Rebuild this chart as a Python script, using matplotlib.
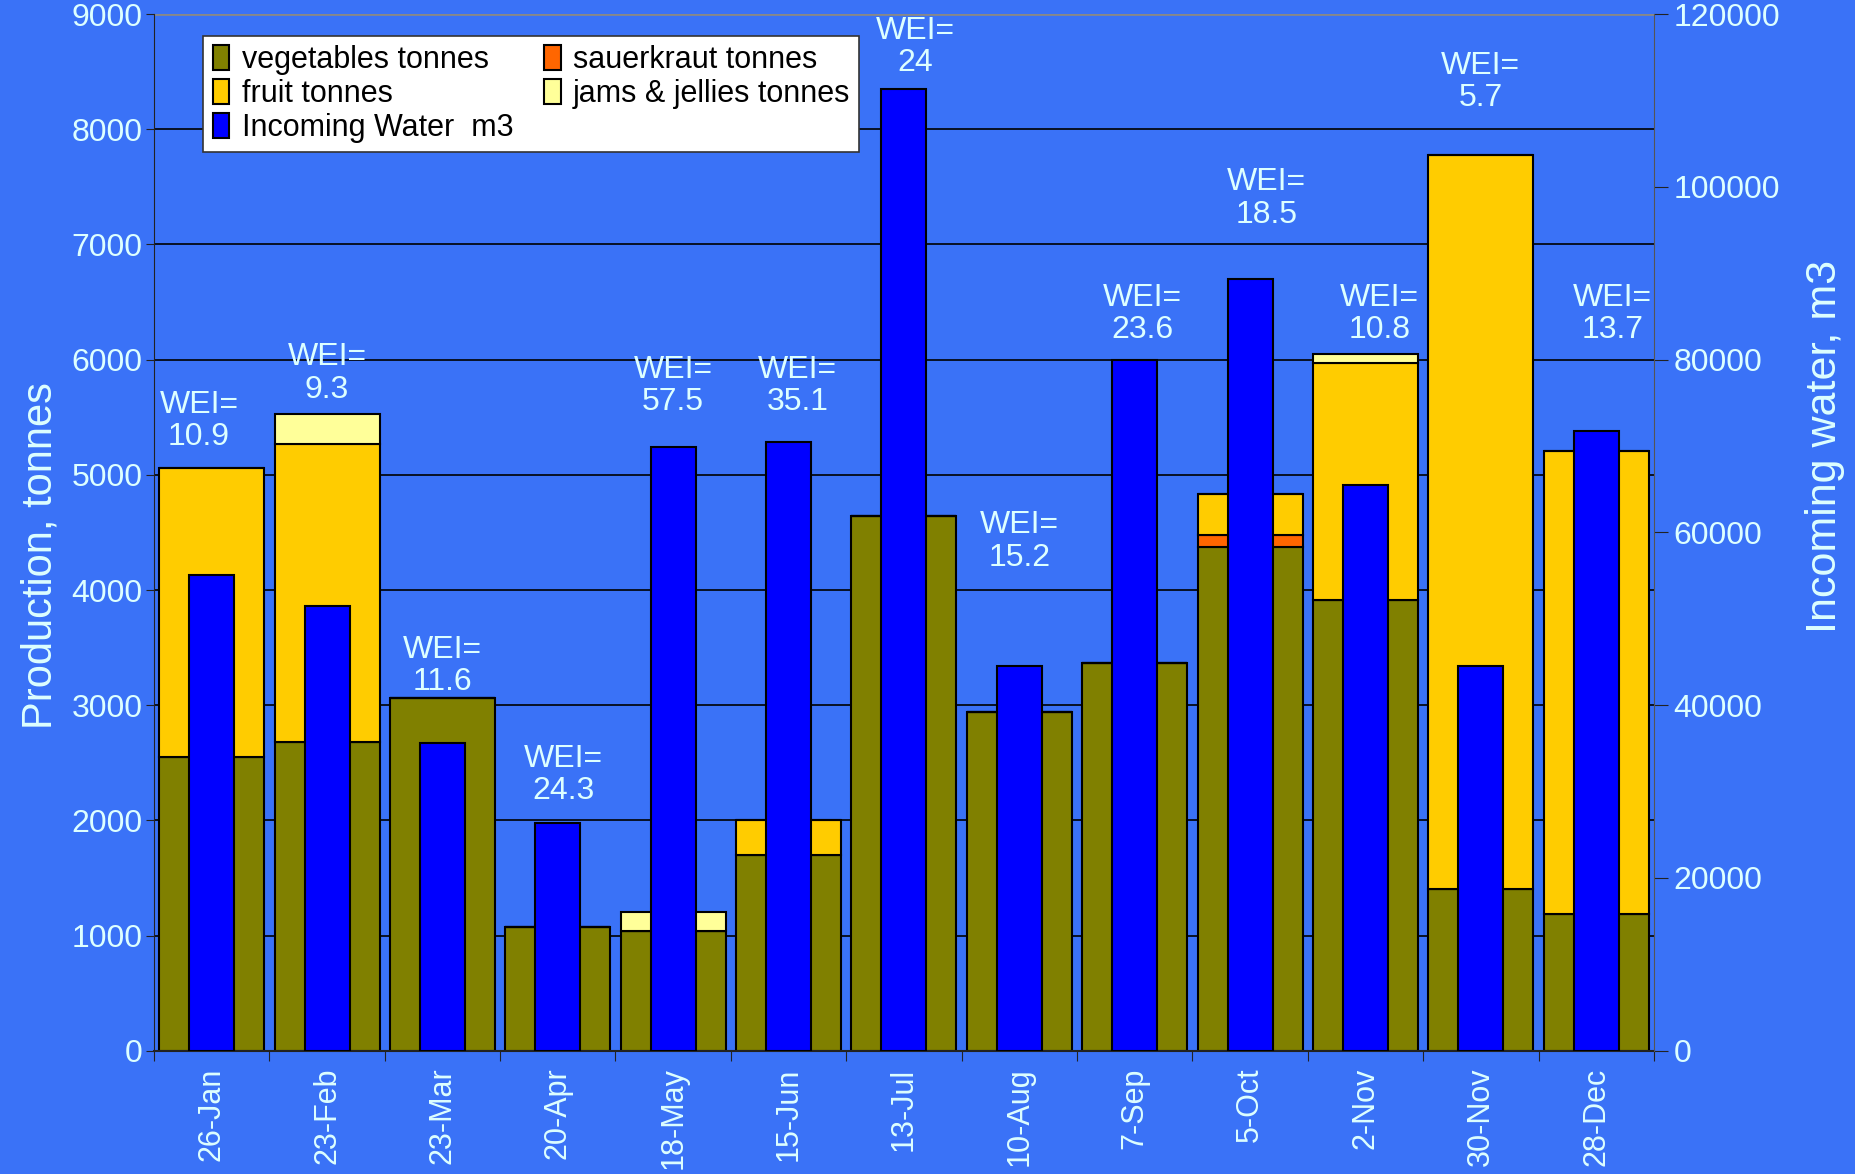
import numpy as np
import matplotlib.pyplot as plt

# dates of the four-weekly periods
dates = ['26-Jan', '23-Feb', '23-Mar', '20-Apr', '18-May', '15-Jun', '13-Jul',
         '10-Aug', '7-Sep', '5-Oct', '2-Nov', '30-Nov', '28-Dec']

# production, tonnes (stack order: vegetables, sauerkraut, fruit, jams)
vegetables = [2550, 2680, 3060, 1070, 1040, 1700, 4640, 2940, 3370, 4370, 3910, 1400, 1190]
sauerkraut = [0, 0, 0, 0, 0, 0, 0, 0, 0, 110, 0, 0, 0]
fruit = [2510, 2590, 0, 0, 0, 300, 0, 0, 0, 350, 2065, 6380, 4020]
jams = [0, 255, 0, 0, 165, 0, 0, 0, 0, 0, 75, 0, 0]

# incoming water, m3
water = [55100, 51500, 35600, 26400, 69900, 70500, 111300, 44500, 80000, 89350, 65500, 44500, 71700]

# water efficiency index labels
wei = ['10.9', '9.3', '11.6', '24.3', '57.5', '35.1', '24', '15.2', '23.6', '18.5', '10.8', '5.7', '13.7']
# where each WEI label sits (x offset from the slot centre, y in tonnes)
wei_dx = [-0.11, 0, 0, 0.05, 0, 0.08, 0.1, 0, 0.07, 0.14, 0.12, 0, 0.14]
wei_y = [5470, 5880, 3340, 2395, 5770, 5770, 8715, 4420, 6395, 7400, 6395, 8410, 6395]

bg = '#3A72F7'
txt = '#DDFFFF'
narrow = ['Liberation Sans Narrow', 'Liberation Sans', 'DejaVu Sans']
sans = ['Liberation Sans', 'DejaVu Sans']

fig = plt.figure(figsize=(18.55, 11.74), dpi=100, facecolor=bg)
ax = fig.add_axes([0.083, 0.105, 0.8086, 0.883])
ax.set_facecolor(bg)
x = np.arange(len(dates))
w = 0.91
veg = np.array(vegetables)
sau = np.array(sauerkraut)
fru = np.array(fruit)
jam = np.array(jams)

ax.bar(x, veg, w, color='#808000', edgecolor='black', lw=1.5, zorder=2, label='vegetables tonnes')
ax.bar(x, sau, w, bottom=veg, color='#FF6600', edgecolor='black', lw=1.5, zorder=2,
       label='sauerkraut tonnes')
ax.bar(x, fru, w, bottom=veg + sau, color='#FFCC00', edgecolor='black', lw=1.5, zorder=2,
       label='fruit tonnes')
ax.bar(x, jam, w, bottom=veg + sau + fru, color='#FFFF99', edgecolor='black', lw=1.5, zorder=2,
       label='jams & jellies tonnes')

ax.set_xlim(-0.5, len(dates) - 0.5)
ax.set_ylim(0, 9000)
ax.set_yticks(np.arange(0, 9001, 1000))
ax.yaxis.grid(True, color='black', lw=1.2, zorder=0)
ax.set_axisbelow(True)
ax.set_xticks(np.arange(-0.5, len(dates), 1.0))
ax.set_xticklabels([])
ax.set_xticks(x, minor=True)
ax.set_xticklabels(dates, minor=True, rotation=90, fontsize=22, color=txt, family=sans, va='top')
ax.tick_params(axis='x', which='major', length=7, color='#222222', direction='out')
ax.tick_params(axis='x', which='minor', length=0, pad=12)
ax.tick_params(axis='y', length=6, color='#222222', labelsize=23, labelcolor=txt, pad=2)
for lab in ax.get_yticklabels():
    lab.set_family(narrow)
ax.set_ylabel('Production, tonnes', fontsize=30, color=txt, family=sans, labelpad=8)
ax.yaxis.label.set_y(0.478)
for s in ['top', 'right']:
    ax.spines[s].set_visible(False)
ax.spines['left'].set_color('#222222')
ax.spines['bottom'].set_color('#222222')
ax.spines['bottom'].set_linewidth(1.5)
ax.axhline(9000, color='#888888', lw=2, zorder=1)

ax2 = ax.twinx()
ax2.bar(x, water, 0.39, color='#0000FF', edgecolor='black', lw=1.5, zorder=3,
        label='Incoming Water  m3')
ax2.set_ylim(0, 120000)
ax2.set_yticks(np.arange(0, 120001, 20000))
ax2.tick_params(axis='y', length=10, color='#222222', labelsize=23, labelcolor=txt, pad=4)
for lab in ax2.get_yticklabels():
    lab.set_family(narrow)
ax2.set_ylabel('Incoming water, m3', fontsize=31, color=txt, family=sans, labelpad=18)
ax2.yaxis.label.set_y(0.583)
for s in ['top', 'left', 'bottom']:
    ax2.spines[s].set_visible(False)
ax2.spines['right'].set_color('#555555')

for i, v in enumerate(wei):
    ax.text(x[i] + wei_dx[i], wei_y[i], 'WEI=\n' + v, ha='center', va='center',
            fontsize=23, color=txt, family=narrow, linespacing=1.1, zorder=5)

h1, l1 = ax.get_legend_handles_labels()
h2, l2 = ax2.get_legend_handles_labels()
order = [h1[0], h1[2], h2[0], h1[1], h1[3]]
names = [l1[0], l1[2], l2[0], l1[1], l1[3]]
leg = ax2.legend(order, names, ncol=2, loc='upper left', bbox_to_anchor=(0.033, 0.979),
                 borderaxespad=0,
                 prop={'family': narrow, 'size': 22}, frameon=True, fancybox=False,
                 edgecolor='#333333', facecolor='white', framealpha=1,
                 handlelength=0.55, handleheight=0.9, handletextpad=0.4,
                 columnspacing=1.0, labelspacing=0.12, borderpad=0.3)
leg.get_frame().set_linewidth(1.2)

fig.savefig('out.png', dpi=100, facecolor=bg)
